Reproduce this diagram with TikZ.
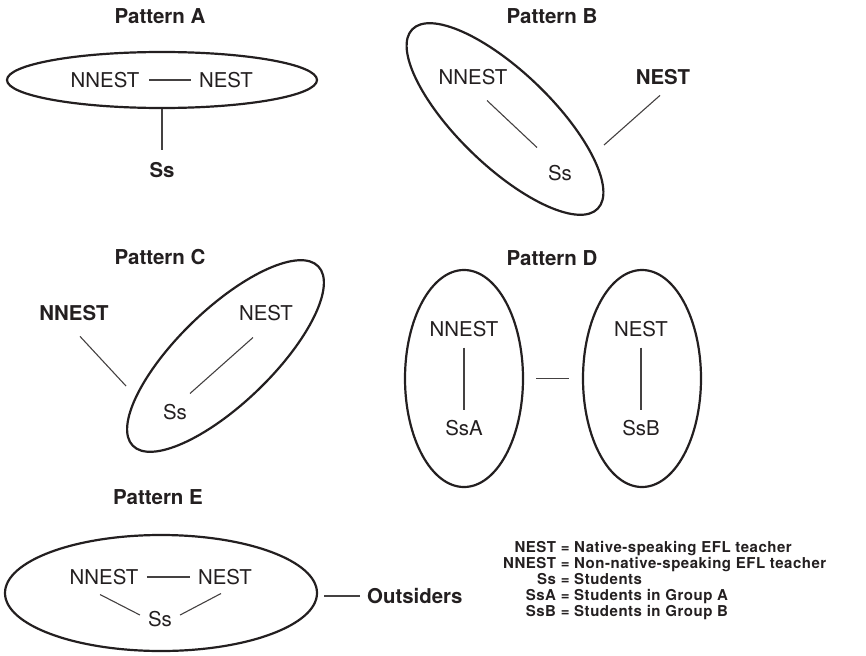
\documentclass[tikz,border=0pt]{standalone}
\usepackage{fontspec}
\setmainfont{TeX Gyre Heros}
\newfontfamily\keyfont[LetterSpace=3.5]{TeX Gyre Heros}
\usetikzlibrary{shapes.geometric}
\definecolor{ink}{HTML}{231F20}
\tikzset{
  lbl/.style={inner sep=0pt, text=ink, font=\fontsize{20.4}{24}\selectfont},
  blbl/.style={inner sep=0pt, text=ink, font=\fontsize{20.4}{24}\selectfont\bfseries},
  ttl/.style={inner sep=0pt, text=ink, font=\fontsize{20.5}{24}\selectfont\bfseries},
  ring/.style={draw=ink, line width=2.2pt, ellipse, inner sep=0pt},
  conn/.style={draw=ink!85, line width=1.1pt},
}
\begin{document}
\begin{tikzpicture}[x=1pt,y=-1pt]
\useasboundingbox (0,0) rectangle (866,655);
% ---------------- Pattern A
\node[ttl] (tA) at (160,16) {Pattern A};
\node[ring, minimum width=310pt, minimum height=56pt] (eA) at (162,80) {};
\node[lbl] (a1) at (105,80) {NNEST};
\node[lbl] (a2) at (226,80) {NEST};
\node[blbl] (a3) at (162,170) {Ss};
\draw[conn, shorten <=10pt, shorten >=8pt] (a1.east) -- (a2.west);
\draw[conn, shorten >=12.5pt] (eA.south) -- (a3.north);
% ---------------- Pattern B
\node[ttl] (tB) at (552,16) {Pattern B};
\node[ring, minimum width=258pt, minimum height=94pt, rotate=-44] (eB) at (505,119) {};
\node[lbl] (b1) at (473,77) {NNEST};
\node[blbl] (b2) at (663,77) {NEST};
\node[lbl] (b3) at (560,173) {Ss};
\draw[conn] ([xshift=14pt,yshift=-15.5pt]b1.south) -- ([xshift=-23pt,yshift=17.5pt]b3.north);
\draw[conn] ([xshift=-3pt,yshift=-10.5pt]b2.south) -- ([xshift=99pt,yshift=-26pt]eB.center);
% ---------------- Pattern C
\node[ttl] (tC) at (160,257) {Pattern C};
\node[ring, minimum width=258pt, minimum height=94pt, rotate=44] (eC) at (225.5,356) {};
\node[blbl] (c1) at (74,313) {NNEST};
\node[lbl] (c2) at (266,313) {NEST};
\node[lbl] (c3) at (175,412) {Ss};
\draw[conn] ([xshift=6pt,yshift=-15.5pt]c1.south) -- ([xshift=-99.5pt,yshift=-30pt]eC.center);
\draw[conn] ([xshift=-13pt,yshift=-16.5pt]c2.south) -- ([xshift=15pt,yshift=10.5pt]c3.north);
% ---------------- Pattern D
\node[ttl] (tD) at (552,258) {Pattern D};
\node[ring, minimum width=118pt, minimum height=217pt] (eD1) at (464,378.5) {};
\node[ring, minimum width=118pt, minimum height=217pt] (eD2) at (642,378.5) {};
\node[lbl] (d1) at (464,329) {NNEST};
\node[lbl] (d2) at (464,428) {SsA};
\node[lbl] (d3) at (641,329) {NEST};
\node[lbl] (d4) at (641,428) {SsB};
\draw[conn, shorten <=10.5pt, shorten >=10.5pt] (d1.south) -- (d2.north);
\draw[conn, shorten <=10.5pt, shorten >=10.5pt] (d3.south) -- (d4.north);
\draw[conn, shorten <=12pt, shorten >=13pt] (eD1.east) -- (eD2.west);
% ---------------- Pattern E
\node[ttl] (tE) at (158,497) {Pattern E};
\node[ring, minimum width=312pt, minimum height=116pt] (eE) at (161,593) {};
\node[lbl] (e1) at (104,577) {NNEST};
\node[lbl] (e2) at (225,577) {NEST};
\node[lbl] (e3) at (160,619) {Ss};
\node[blbl, anchor=west] (out) at (367,596) {Outsiders};
\draw[conn, shorten <=8.5pt, shorten >=7.5pt] (e1.east) -- (e2.west);
\draw[conn] ([xshift=-4pt,yshift=-9.5pt]e1.south) -- ([xshift=-8pt,yshift=4pt]e3.west);
\draw[conn] ([xshift=-4pt,yshift=-8.5pt]e2.south) -- ([xshift=8pt,yshift=4pt]e3.east);
\draw[conn, shorten <=6pt, shorten >=7pt] (eE.east |- out.west) -- (out.west);
% ---------------- Legend
\node[inner sep=0pt, anchor=base west, text=ink, font=\keyfont\fontsize{15}{16}\selectfont\bfseries] (key) at (503,552.5)
{\begin{tabular}[t]{@{}r@{ = }l@{}}
NEST & Native-speaking EFL teacher\\
NNEST & Non-native-speaking EFL teacher\\
Ss & Students\\
SsA & Students in Group A\\
SsB & Students in Group B
\end{tabular}};
\end{tikzpicture}
\end{document}
